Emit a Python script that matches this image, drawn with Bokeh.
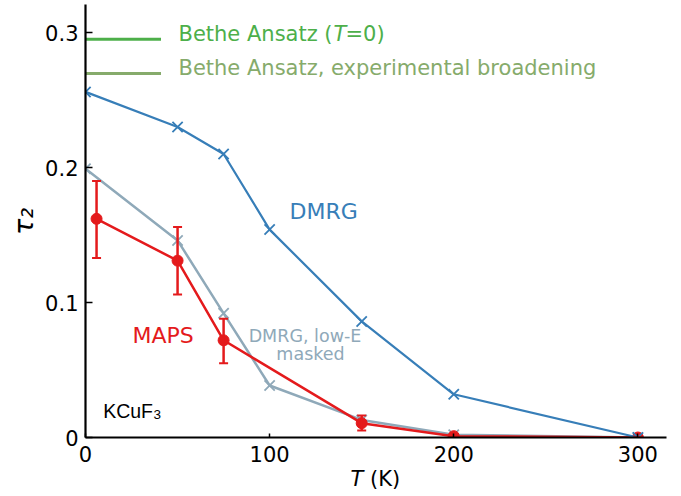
import math
from bokeh.plotting import figure
from bokeh.models import ColumnDataSource, Whisker, TeeHead, Label, FixedTicker, BoxAnnotation
from bokeh.embed import file_html
from bokeh.resources import INLINE

# ---- data ----
dmrg_T = [0, 50, 75, 100, 150, 200, 300]
dmrg_tau = [0.256, 0.230, 0.210, 0.154, 0.086, 0.032, 0.0]

masked_T = [0, 50, 75, 100, 150, 200, 300]
masked_tau = [0.199, 0.146, 0.092, 0.0385, 0.013, 0.002, 0.0]

maps_T = [6, 50, 75, 150, 200, 300]
maps_tau = [0.162, 0.131, 0.072, 0.0106, 0.001, 0.0]
maps_upper = [0.190, 0.156, 0.088, 0.0163, 0.002, 0.0]
maps_lower = [0.133, 0.106, 0.055, 0.0052, 0.0, 0.0]

bethe_T0 = 0.295
bethe_broad = 0.2696
bethe_T = [0, 41]

x_ticks = [0, 100, 200, 300]
y_ticks = [0, 0.1, 0.2, 0.3]
y_tick_labels = {0: "0", 0.1: "0.1", 0.2: "0.2", 0.3: "0.3"}

FONT = "DejaVu Sans"
BLUE = "#377eb8"
GREYBLUE = "#8fa9b9"
RED = "#e41a1c"
GREEN = "#4daf4a"
LGREEN = "#86ab6b"

# axis extents (data) and the full-canvas view around them
X_MAX = 315.5
Y_MAX = 0.3207
W, H = 673, 494
PX_PER_K = 1.8413
PX_PER_TAU = 1350.0
X0_PX, Y0_PX = 85, 437

p = figure(width=W, height=H,
           x_range=(-X0_PX / PX_PER_K, (W - X0_PX) / PX_PER_K),
           y_range=(-(H - Y0_PX) / PX_PER_TAU, Y0_PX / PX_PER_TAU),
           output_backend="svg", toolbar_location=None, tools="",
           min_border=0, min_border_left=0, min_border_right=0,
           min_border_top=0, min_border_bottom=0)
p.outline_line_color = None
p.xgrid.visible = False
p.ygrid.visible = False

for ax in (p.xaxis[0], p.yaxis[0]):
    ax.axis_line_width = 2.2
    ax.axis_line_color = "black"
    ax.major_tick_line_width = 1.5
    ax.major_tick_out = 0
    ax.minor_tick_in = 0
    ax.minor_tick_out = 0
    ax.major_label_text_font = FONT
    ax.major_label_text_font_size = "21px"
    ax.major_label_text_color = "black"
    ax.fixed_location = 0

p.xaxis.bounds = (0, X_MAX)
p.yaxis.bounds = (0, Y_MAX)
p.xaxis.ticker = FixedTicker(ticks=x_ticks)
p.yaxis.ticker = FixedTicker(ticks=y_ticks)
p.yaxis.major_label_overrides = y_tick_labels
p.xaxis.major_tick_in = 4
p.yaxis.major_tick_in = 7
p.yaxis.major_label_standoff = 7
p.xaxis.major_label_standoff = 8

# Bethe Ansatz reference lines
p.line(bethe_T, [bethe_T0, bethe_T0], line_color=GREEN, line_width=3)
p.line(bethe_T, [bethe_broad, bethe_broad], line_color=LGREEN, line_width=3)

# DMRG low-E masked
p.line(masked_T, masked_tau, line_color=GREYBLUE, line_width=2.5)
p.scatter(masked_T, masked_tau, marker="x", size=14.5, line_color=GREYBLUE, line_width=1.8)

# MAPS
src = ColumnDataSource(dict(x=maps_T, y=maps_tau, up=maps_upper, lo=maps_lower))
p.line("x", "y", source=src, line_color=RED, line_width=2.5)
wh = Whisker(base="x", upper="up", lower="lo", source=src, line_color=RED,
             line_width=2.5, dimension="height", level="glyph",
             upper_head=TeeHead(size=9, line_color=RED, line_width=2),
             lower_head=TeeHead(size=9, line_color=RED, line_width=2))
p.add_layout(wh)
p.scatter("x", "y", source=src, marker="circle", size=11, fill_color=RED, line_color=RED)

# DMRG
p.line(dmrg_T, dmrg_tau, line_color=BLUE, line_width=2.2)
p.scatter(dmrg_T, dmrg_tau, marker="x", size=14.5, line_color=BLUE, line_width=1.8)

# marks are clipped at the axes, as in the reference
p.add_layout(BoxAnnotation(top=0, fill_color="white", fill_alpha=1.0,
                           line_alpha=0, level="glyph"))
p.add_layout(BoxAnnotation(right=0, fill_color="white", fill_alpha=1.0,
                           line_alpha=0, level="glyph"))

BASE_SHIFT = 8 / PX_PER_TAU  # compensate the renderer's baseline offset

def lab(x, y, text, color, size, style="normal", align="left", font=FONT,
        angle=0.0, baseline="alphabetic"):
    if baseline == "alphabetic":
        y = y + BASE_SHIFT
    p.add_layout(Label(x=x, y=y, text=text, text_color=color, text_font=font,
                       text_font_size=size, text_font_style=style, text_align=align,
                       text_baseline=baseline, angle=angle))

# annotations
lab(50.5, 0.2933, "Bethe Ansatz (", GREEN, "21px")
lab(134.7, 0.2933, "T", GREEN, "21px", style="italic")
lab(141.2, 0.2933, "=0)", GREEN, "21px")
lab(50.5, 0.2681, "Bethe Ansatz, experimental broadening", LGREEN, "21px")
lab(110.8, 0.1615, "DMRG", BLUE, "22px")
lab(25.5, 0.0696, "MAPS", RED, "22px")
lab(119.2, 0.0689, "DMRG, low-E", GREYBLUE, "17.5px", align="center")
lab(122.2, 0.0556, "masked", GREYBLUE, "17.5px", align="center")
lab(9.6, 0.01385, "KCuF", "black", "19.5px", font="Liberation Sans")
lab(36.9, 0.0108, "3", "black", "13.5px", font="Liberation Sans")

# axis labels
lab(143.9, -0.0370, "T", "black", "21px", style="italic")
lab(154.5, -0.0370, "(K)", "black", "21px")
lab(-33.5, 0.16, "τ₂", "black", "27px", style="italic", align="center",
    angle=math.pi / 2, baseline="middle")

open("out.html", "w").write(file_html(p, INLINE))
